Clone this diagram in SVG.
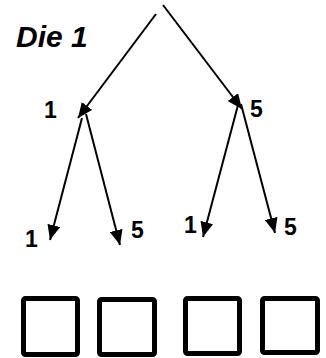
<svg xmlns="http://www.w3.org/2000/svg" width="326" height="358" viewBox="0 0 326 358">
<style>
.lbl{font-family:"Liberation Sans",Arial,sans-serif;font-weight:bold;font-size:23px;fill:#000}
.title{font-family:"Liberation Sans",Arial,sans-serif;font-weight:bold;font-style:italic;font-size:30px;fill:#000}
.edge{stroke:#000;stroke-width:2;fill:none;marker-end:url(#ah)}
.box{fill:#fff;stroke:#000;stroke-width:5}
</style>
<defs>
<marker id="ah" markerUnits="userSpaceOnUse" markerWidth="15" markerHeight="13" refX="15" refY="6.5" orient="auto" viewBox="0 0 15 13">
<path d="M0,0 L15,6.5 L0,13 z" fill="#000"/>
</marker>
</defs>
<rect width="326" height="358" fill="#fff"/>
<g id="title"><text class="title" x="16" y="47">Die 1</text></g>
<g id="connectors">
<line class="edge" x1="156" y1="14" x2="78" y2="118"/>
<line class="edge" x1="163" y1="5" x2="242" y2="109"/>
<line class="edge" x1="82" y1="118" x2="50" y2="240"/>
<line class="edge" x1="86" y1="114" x2="120" y2="245"/>
<line class="edge" x1="238" y1="105" x2="203" y2="237"/>
<line class="edge" x1="241" y1="104" x2="275" y2="233"/>
</g>
<g id="n-l"><text class="lbl" x="44" y="118">1</text></g>
<g id="n-r"><text class="lbl" x="250" y="117">5</text></g>
<g id="n-ll"><text class="lbl" x="25" y="247">1</text></g>
<g id="n-lr"><text class="lbl" x="131" y="238">5</text></g>
<g id="n-rl"><text class="lbl" x="184" y="233">1</text></g>
<g id="n-rr"><text class="lbl" x="284" y="235">5</text></g>
<g id="box1"><rect class="box" x="23.5" y="298.5" width="54" height="56" rx="2"/></g>
<g id="box2"><rect class="box" x="99.5" y="299.5" width="55" height="55" rx="2"/></g>
<g id="box3"><rect class="box" x="185.5" y="298.5" width="54" height="55" rx="2"/></g>
<g id="box4"><rect class="box" x="262.5" y="298.5" width="55" height="54" rx="2"/></g>
</svg>
